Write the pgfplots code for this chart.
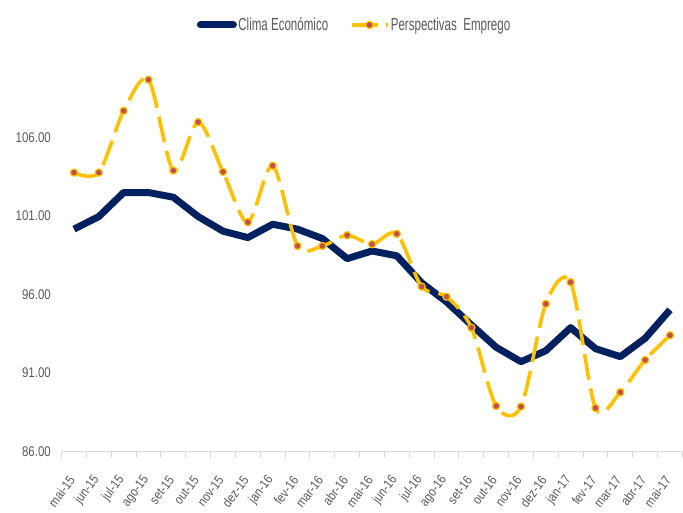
\documentclass[border=0pt]{standalone}
\usepackage{fontspec}
\setmainfont{Liberation Sans}[FakeStretch=0.82]
\newfontfamily\legfont{Liberation Sans}[FakeStretch=0.66]
\newfontfamily\xfont{Liberation Sans}[FakeStretch=0.85]
\usepackage{pgfplots}
\pgfplotsset{compat=1.18}
\definecolor{navy}{HTML}{002060}
\definecolor{gold}{HTML}{FFC000}
\definecolor{mred}{HTML}{C0504D}
\definecolor{txt}{HTML}{595959}
\definecolor{axl}{HTML}{D9D9D9}
\begin{document}
\begin{tikzpicture}[x=1pt,y=1pt]
\path[use as bounding box] (-61.6,-61.3) rectangle (621.4,451.7);
\begin{axis}[
  at={(0,0)}, anchor=south west,
  scale only axis, width=620.8pt, height=392.7pt,
  xmin=-0.5, xmax=24.5, ymin=86, ymax=111,
  clip=false,
  axis x line*=bottom, axis y line*=left,
  x axis line style={axl, line width=1.5pt, -},
  y axis line style={draw=none},
  ytick={86,91,96,101,106},
  ytick style={draw=none},
  yticklabel style={font=\fontsize{14}{14}\selectfont, text=txt, xshift=-3pt},
  /pgf/number format/.cd, fixed, fixed zerofill, precision=2, assume math mode=true,
  /pgfplots/.cd,
  xtick={0,...,24},
  xticklabels={mai-15,jun-15,jul-15,ago-15,set-15,out-15,nov-15,dez-15,jan-16,fev-16,mar-16,abr-16,mai-16,jun-16,jul-16,ago-16,set-16,out-16,nov-16,dez-16,jan-17,fev-17,mar-17,abr-17,mai-17},
  major x tick style={draw=none},
  minor xtick={-0.5,0.5,...,24.5},
  minor tick length=6pt,
  tick align=outside,
  minor x tick style={axl, line width=1pt},
  xticklabel style={xshift=0pt, yshift=-19pt, rotate=53, anchor=east, font=\xfont\fontsize{13.2}{13.2}\selectfont, text=txt},
  legend columns=2,
  legend style={draw=none, fill=none, at={(0.4715,1.0866)}, anchor=center,
    font=\legfont\fontsize{17.5}{17.5}\selectfont, text=txt,
    nodes={inner xsep=1.5pt},
    /tikz/every even column/.append style={column sep=20pt}},
]
\addplot[navy, line width=7pt, line join=round,
  legend image code/.code={\draw[navy, line width=7pt, line cap=round] (3pt,0pt)--(36pt,0pt);}]
coordinates {
(0,100.17) (1,100.97) (2,102.50) (3,102.50) (4,102.20) (5,100.97) (6,100.04) (7,99.63)
(8,100.48) (9,100.17) (10,99.57) (11,98.29) (12,98.78) (13,98.47) (14,96.75) (15,95.54)
(16,94.07) (17,92.65) (18,91.73) (19,92.43) (20,93.90) (21,92.56) (22,92.05) (23,93.22) (24,95.03)
};
\addlegendentry{Clima Económico}
\addplot[gold, line width=3.6pt, smooth, dash pattern=on 26pt off 9pt,
  mark=*, mark size=3.6pt, mark options={solid, fill=mred, draw=gold, line width=1.2pt},
  legend image code/.code={\draw[gold, line width=3.6pt, dash pattern=on 26pt off 8pt] (0pt,0pt)--(36pt,0pt);
    \fill[mred, draw=gold, line width=1.2pt] (18pt,0pt) circle (3.6pt);}]
coordinates {
(0,103.77) (1,103.77) (2,107.70) (3,109.68) (4,103.90) (5,106.98) (6,103.82) (7,100.61)
(8,104.20) (9,99.10) (10,99.10) (11,99.78) (12,99.21) (13,99.87) (14,96.51) (15,95.87)
(16,93.90) (17,88.91) (18,88.87) (19,95.41) (20,96.79) (21,88.78) (22,89.78) (23,91.84) (24,93.41)
};
\addlegendentry{Perspectivas\ \ Emprego}
\end{axis}
\end{tikzpicture}
\end{document}
